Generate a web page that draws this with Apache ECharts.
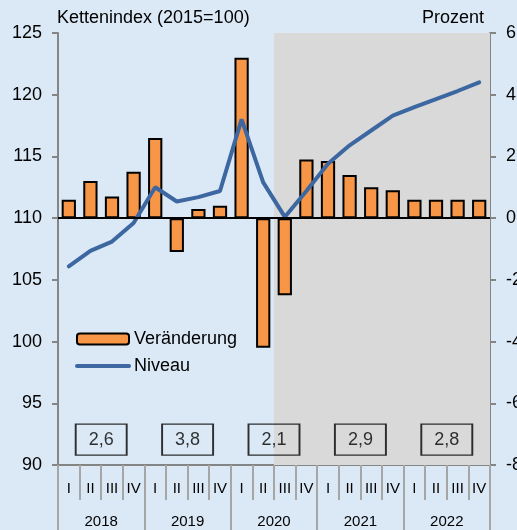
<!DOCTYPE html>
<html>
<head>
<meta charset="utf-8">
<script src="https://cdn.jsdelivr.net/npm/echarts@6/dist/echarts.min.js"></script>
<style>
  html, body { margin: 0; padding: 0; background: #dbe8f5; }
  #chart { width: 517px; height: 530px; }
</style>
</head>
<body>
<div id="chart"></div>
<script>
// Quarters and years on the x axis
const quarters = ['I', 'II', 'III', 'IV', 'I', 'II', 'III', 'IV', 'I', 'II', 'III', 'IV',
  'I', 'II', 'III', 'IV', 'I', 'II', 'III', 'IV'];
const years = ['2018', '2019', '2020', '2021', '2022'];
// Quarter-on-quarter change in percent (right axis)
const change = [0.6, 1.2, 0.7, 1.5, 2.6, -1.1, 0.3, 0.4, 5.2, -4.2, -2.5, 1.9,
  1.85, 1.4, 1.0, 0.9, 0.6, 0.6, 0.6, 0.6];
// Chain index level, 2015=100 (left axis)
const level = [106.1, 107.35, 108.1, 109.6, 112.5, 111.35, 111.7, 112.2, 118.0, 112.9, 110.1, 112.2,
  114.4, 115.9, 117.1, 118.3, 119.0, 119.65, 120.3, 121.0];
// Annual growth rates shown in the boxes
const annual = ['2,6', '3,8', '2,1', '2,9', '2,8'];

const font = '"Liberation Sans", Arial, sans-serif';
const axisGrey = '#858585';
const tickGrey = '#a6a6a6';
const lineBlue = '#3c67a1';
const fontSize = 18;
const xFontSize = 15;

const chart = echarts.init(document.getElementById('chart'));

chart.setOption({
  animation: false,
  backgroundColor: '#dbe8f5',
  textStyle: { fontFamily: font, color: '#000' },
  // outerBoundsMode none: keep the plot where it is, labels may run off the edge
  grid: { left: 58, right: 27, top: 33, bottom: 65, outerBoundsMode: 'none' },
  graphic: [
    {
      type: 'text', left: 57, top: 9,
      style: { text: 'Kettenindex (2015=100)', font: fontSize + 'px ' + font, fill: '#000' }
    },
    {
      type: 'text', right: 33, top: 9,
      style: { text: 'Prozent', font: fontSize + 'px ' + font, fill: '#000' }
    }
  ],
  legend: {
    orient: 'vertical',
    left: 75,
    top: 330,
    padding: 0,
    itemWidth: 52,
    itemHeight: 11,
    itemGap: 9,
    textStyle: { fontSize: fontSize, fontFamily: font, color: '#000' },
    data: [
      { name: 'Veränderung' },
      {
        name: 'Niveau',
        // hide the symbol that the line legend draws in the middle
        itemStyle: { color: 'rgba(0,0,0,0)', borderColor: 'rgba(0,0,0,0)', borderWidth: 0 },
        lineStyle: { width: 4, cap: 'round' }
      }
    ]
  },
  xAxis: [
    {
      type: 'category',
      data: quarters,
      position: 'bottom',
      axisLine: { onZero: false, lineStyle: { color: axisGrey, width: 2 } },
      axisTick: { show: true, interval: 0, length: 35, lineStyle: { color: tickGrey, width: 2 } },
      axisLabel: { interval: 0, margin: 16, fontSize: xFontSize, color: '#000' }
    },
    {
      type: 'category',
      data: years,
      position: 'bottom',
      axisLine: { show: false, onZero: false },
      axisTick: { show: true, interval: 0, length: 65, lineStyle: { color: tickGrey, width: 2 } },
      axisLabel: { interval: 0, margin: 49, fontSize: xFontSize, color: '#000' }
    },
    {
      // hidden numeric axis for the shaded forecast area and the annual boxes
      type: 'value',
      min: 0,
      max: quarters.length,
      show: false
    }
  ],
  yAxis: [
    {
      type: 'value',
      min: 90,
      max: 125,
      interval: 5,
      splitLine: { show: false },
      axisLine: { show: true, onZero: false, lineStyle: { color: axisGrey, width: 2 } },
      axisTick: { show: true, length: 6, lineStyle: { color: axisGrey, width: 2 } },
      axisLabel: { margin: 16, fontSize: fontSize, color: '#000' }
    },
    {
      type: 'value',
      min: -8,
      max: 6,
      interval: 2,
      position: 'right',
      splitLine: { show: false },
      axisLine: { show: true, onZero: false, lineStyle: { color: axisGrey, width: 2 } },
      axisTick: { show: true, length: 6, lineStyle: { color: axisGrey, width: 2 } },
      axisLabel: { margin: 16, fontSize: fontSize, color: '#000' }
    }
  ],
  series: [
    {
      name: 'Jahreswerte',
      type: 'scatter',
      xAxisIndex: 2,
      yAxisIndex: 0,
      z: 1,
      silent: true,
      symbol: 'rect',
      symbolSize: [51, 31],
      itemStyle: { color: 'rgba(0,0,0,0)', borderColor: '#000', borderWidth: 1.5 },
      label: {
        show: true,
        position: 'inside',
        formatter: '{b}',
        fontSize: fontSize,
        fontFamily: font,
        color: '#000'
      },
      data: annual.map((t, i) => ({ name: t, value: [4 * i + 2, 92.05] })),
      markArea: {
        silent: true,
        itemStyle: { color: '#d9d9d9' },
        data: [[{ xAxis: 10 }, { xAxis: 20 }]]
      }
    },
    {
      name: 'Veränderung',
      type: 'bar',
      xAxisIndex: 0,
      yAxisIndex: 1,
      z: 3,
      barWidth: '66%',
      itemStyle: { color: '#f79646', borderColor: '#000', borderWidth: 2 },
      data: change,
      markLine: {
        silent: true,
        symbol: 'none',
        label: { show: false },
        lineStyle: { color: '#000', width: 2, type: 'solid' },
        data: [{ yAxis: 0 }]
      }
    },
    {
      name: 'Niveau',
      type: 'line',
      xAxisIndex: 0,
      yAxisIndex: 0,
      z: 4,
      symbol: 'none',
      color: lineBlue,
      lineStyle: { color: lineBlue, width: 4, cap: 'round' },
      data: level
    }
  ]
});
</script>
</body>
</html>
